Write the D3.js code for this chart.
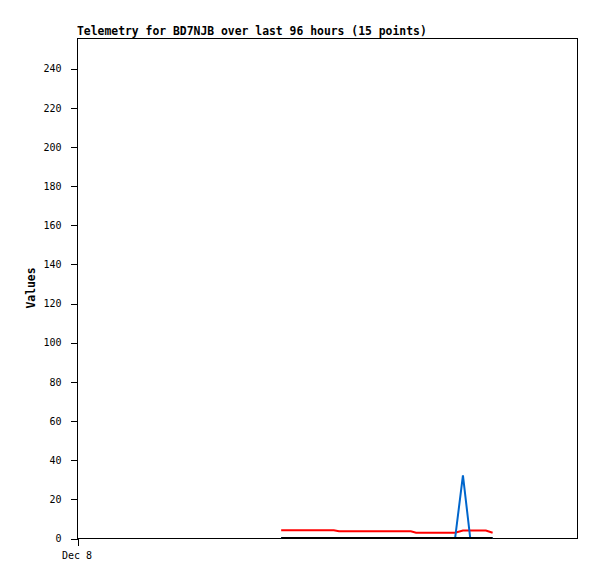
<!DOCTYPE html>
<html>
<head>
<meta charset="utf-8">
<script src="https://cdn.jsdelivr.net/npm/d3@7"></script>
<style>
html,body{margin:0;padding:0;background:#fff;}
svg{display:block;}
</style>
</head>
<body>
<svg id="chart" width="597" height="579"></svg>
<script>
// Data (hours since start of the 96-hour window)
const titleText = "Telemetry for BD7NJB over last 96 hours (15 points)";
const yLabel = "Values";
const hours = [39.2, 42.8, 46.7, 49.3, 50.3, 54.3, 59.1, 64.1, 65.1, 69.7, 72.6, 74.1, 75.5, 78.5, 79.8];
const redValues = [3.9, 3.9, 3.9, 3.9, 3.4, 3.4, 3.4, 3.4, 2.7, 2.7, 2.7, 3.8, 3.8, 3.8, 2.7];
const blueValues = [0, 0, 0, 0, 0, 0, 0, 0, 0, 0, 0, 32, 0, 0, 0];
const blackValues = [0, 0, 0, 0, 0, 0, 0, 0, 0, 0, 0, 0, 0, 0, 0];
const yTicks = [0, 20, 40, 60, 80, 100, 120, 140, 160, 180, 200, 220, 240];
const xTickHours = [0];
const xTickLabels = ["Dec 8"];

const svg = d3.select("#chart");
const pL = 77, pR = 577, pT = 38, pB = 538;

const x = d3.scaleLinear().domain([0, 96]).range([pL, pR]);
const y = d3.scaleLinear().domain([0, 255.4]).range([pB, pT]);

// frame
svg.append("rect")
  .attr("x", pL + 0.5).attr("y", pT + 0.5)
  .attr("width", pR - pL - 0.5).attr("height", pB - pT)
  .attr("fill", "none").attr("stroke", "#000").attr("stroke-width", 1)
  .attr("shape-rendering", "crispEdges");

// y axis
const yAxis = d3.axisLeft(y).tickValues(yTicks).tickSize(7).tickPadding(9).tickFormat(d3.format("d"));
const gy = svg.append("g").attr("transform", `translate(${pL + 0.5},0.5)`).call(yAxis);
gy.select(".domain").remove();
gy.selectAll("line").attr("shape-rendering", "crispEdges");
gy.selectAll("text").attr("font-family", "DejaVu Sans Mono, monospace").attr("font-size", "10px").attr("fill", "#000");

// x axis
const xAxis = d3.axisBottom(x).tickValues(xTickHours).tickSize(7).tickPadding(6)
  .tickFormat((d, i) => xTickLabels[i]);
const gx = svg.append("g").attr("transform", `translate(0.5,${pB + 0.5})`).call(xAxis);
gx.select(".domain").remove();
gx.selectAll("line").attr("shape-rendering", "crispEdges");
gx.selectAll("text").attr("font-family", "DejaVu Sans Mono, monospace").attr("font-size", "10px").attr("fill", "#000").attr("dx", "-1");

// lines (drawing order: red, blue, black on top)
const series = [
  {values: redValues, color: "#ff0000"},
  {values: blueValues, color: "#0066cc"},
  {values: blackValues, color: "#000000"}
];
const line = d3.line().x(d => x(d[0])).y(d => y(d[1]));
series.forEach(s => {
  svg.append("path")
    .datum(hours.map((h, i) => [h, s.values[i]]))
    .attr("d", line)
    .attr("fill", "none")
    .attr("stroke", s.color)
    .attr("stroke-width", 2);
});

// title
svg.append("text")
  .attr("x", pL).attr("y", 35)
  .attr("font-family", "DejaVu Sans Mono, monospace")
  .attr("font-weight", "bold").attr("font-size", "11.4px")
  .attr("fill", "#000")
  .text(titleText);

// y label
svg.append("text")
  .attr("transform", `translate(35,288) rotate(-90)`)
  .attr("text-anchor", "middle")
  .attr("font-family", "DejaVu Sans Mono, monospace")
  .attr("font-weight", "bold").attr("font-size", "11.4px")
  .attr("fill", "#000")
  .text(yLabel);
</script>
</body>
</html>
